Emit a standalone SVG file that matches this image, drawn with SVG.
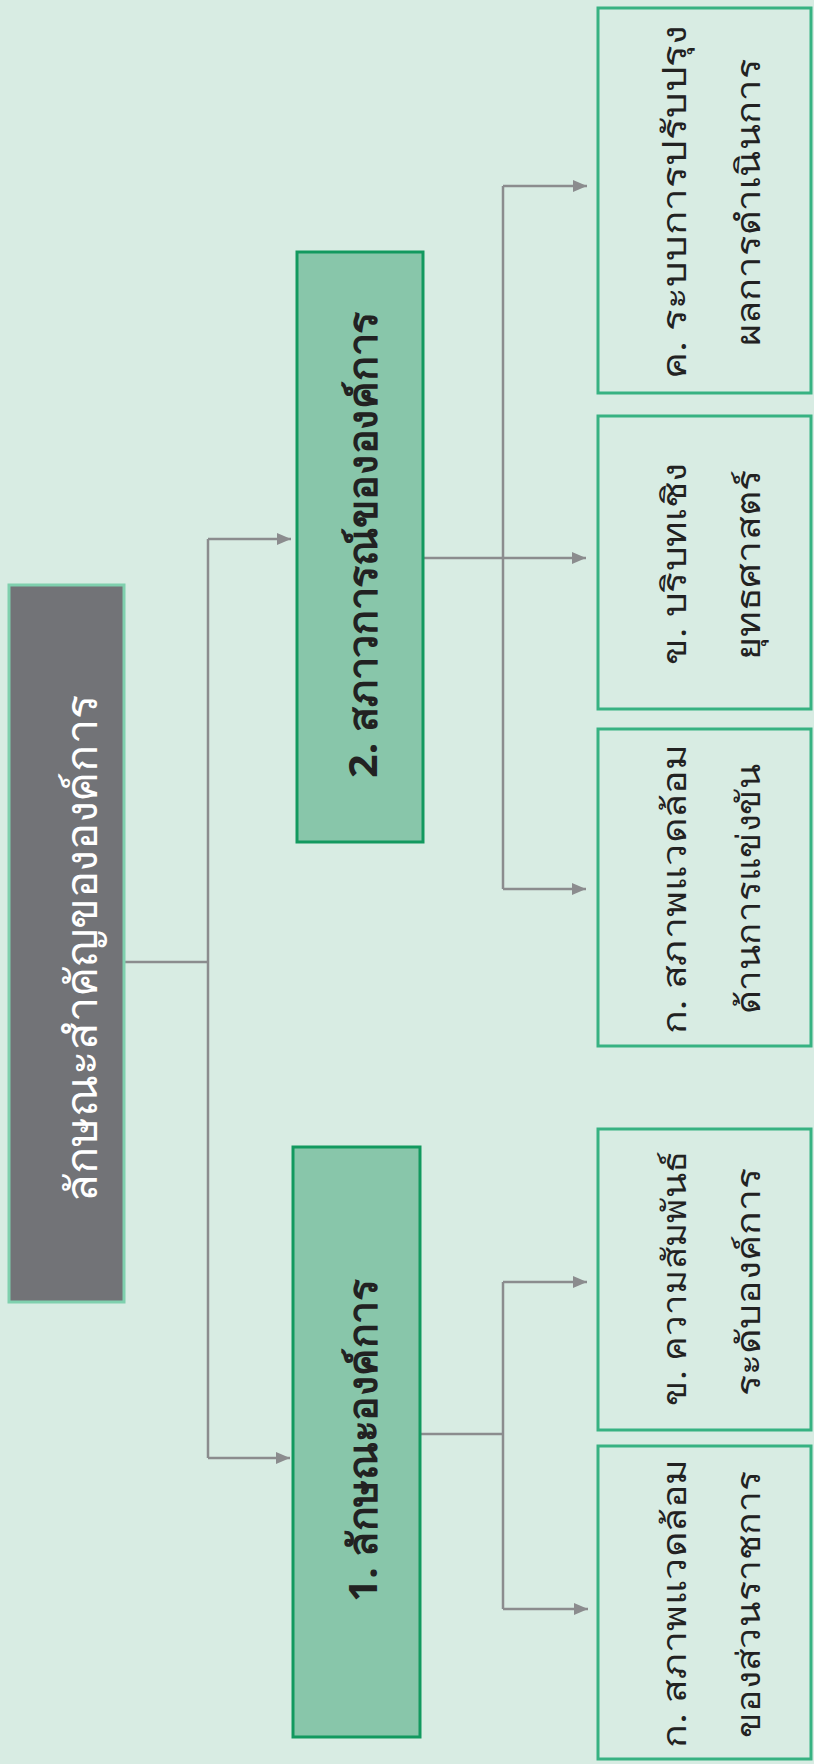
<svg xmlns="http://www.w3.org/2000/svg" width="814" height="1764" viewBox="0 0 814 1764">
<defs>
<style>
.bg{fill:#d8ece3}
.root{fill:#727377;stroke:#7fd0ae;stroke-width:3}
.main{fill:#88c6aa;stroke:#12995f;stroke-width:3}
.child{fill:#d8ece3;stroke:#37b282;stroke-width:3}
.conn{fill:none;stroke:#8b8c8e;stroke-width:2.5}
.t{font-family:'Noto Sans','DejaVu Sans',sans-serif;text-anchor:middle}
.tr{fill:#ffffff;font-size:44px}
.tm{fill:#222222;font-size:40px;font-weight:bold}
.tc{fill:#222222;font-size:33px}
</style>
<marker id="ah" markerWidth="14" markerHeight="12" refX="14" refY="6" orient="auto" markerUnits="userSpaceOnUse">
<path d="M0,0 L14,6 L0,12 z" fill="#8b8c8e"/>
</marker>
</defs>
<rect class="bg" x="0" y="0" width="814" height="1764"/>
<g id="connectors">
<path class="conn" d="M124,962 H208 M208,539 V1458"/>
<path class="conn" d="M208,539 H291" marker-end="url(#ah)"/>
<path class="conn" d="M208,1458 H290" marker-end="url(#ah)"/>
<path class="conn" d="M417,558 H503 M503,186 V889"/>
<path class="conn" d="M503,186 H587" marker-end="url(#ah)"/>
<path class="conn" d="M503,558 H586" marker-end="url(#ah)"/>
<path class="conn" d="M503,889 H586" marker-end="url(#ah)"/>
<path class="conn" d="M418,1434 H503 M503,1282 V1609"/>
<path class="conn" d="M503,1282 H587" marker-end="url(#ah)"/>
<path class="conn" d="M503,1609 H588" marker-end="url(#ah)"/>
</g>
<g id="root">
<rect class="root" x="9" y="585" width="115" height="717"/>
<text class="t tr" transform="translate(97,948) rotate(-90)" x="0" y="0" textLength="508" lengthAdjust="spacingAndGlyphs">ลักษณะสำคัญขององค์การ</text>
</g>
<g id="n2">
<rect class="main" x="297" y="252" width="126" height="590"/>
<text class="t tm" transform="translate(377,545) rotate(-90)" x="0" y="0" textLength="466" lengthAdjust="spacingAndGlyphs">2. สภาวการณ์ขององค์การ</text>
</g>
<g id="n1">
<rect class="main" x="293" y="1147" width="127" height="590"/>
<text class="t tm" transform="translate(377,1441) rotate(-90)" x="0" y="0" textLength="322" lengthAdjust="spacingAndGlyphs">1. ลักษณะองค์การ</text>
</g>
<g id="n2c">
<rect class="child" x="598" y="8" width="213" height="385"/>
<text class="t tc" transform="translate(686,202) rotate(-90)" x="0" y="0" textLength="354" lengthAdjust="spacingAndGlyphs">ค. ระบบการปรับปรุง</text>
<text class="t tc" transform="translate(760,202) rotate(-90)" x="0" y="0" textLength="287" lengthAdjust="spacingAndGlyphs">ผลการดำเนินการ</text>
</g>
<g id="n2b">
<rect class="child" x="598" y="416" width="213" height="293"/>
<text class="t tc" transform="translate(686,564) rotate(-90)" x="0" y="0" textLength="202" lengthAdjust="spacingAndGlyphs">ข. บริบทเชิง</text>
<text class="t tc" transform="translate(760,565) rotate(-90)" x="0" y="0" textLength="190" lengthAdjust="spacingAndGlyphs">ยุทธศาสตร์</text>
</g>
<g id="n2a">
<rect class="child" x="598" y="729" width="213" height="317"/>
<text class="t tc" transform="translate(686,889) rotate(-90)" x="0" y="0" textLength="290" lengthAdjust="spacingAndGlyphs">ก. สภาพแวดล้อม</text>
<text class="t tc" transform="translate(760,889) rotate(-90)" x="0" y="0" textLength="251" lengthAdjust="spacingAndGlyphs">ด้านการแข่งขัน</text>
</g>
<g id="n1b">
<rect class="child" x="598" y="1129" width="213" height="301"/>
<text class="t tc" transform="translate(686,1278) rotate(-90)" x="0" y="0" textLength="255" lengthAdjust="spacingAndGlyphs">ข. ความสัมพันธ์</text>
<text class="t tc" transform="translate(760,1282) rotate(-90)" x="0" y="0" textLength="229" lengthAdjust="spacingAndGlyphs">ระดับองค์การ</text>
</g>
<g id="n1a">
<rect class="child" x="598" y="1446" width="213" height="313"/>
<text class="t tc" transform="translate(686,1603) rotate(-90)" x="0" y="0" textLength="289" lengthAdjust="spacingAndGlyphs">ก. สภาพแวดล้อม</text>
<text class="t tc" transform="translate(760,1604) rotate(-90)" x="0" y="0" textLength="267" lengthAdjust="spacingAndGlyphs">ของส่วนราชการ</text>
</g>
</svg>
